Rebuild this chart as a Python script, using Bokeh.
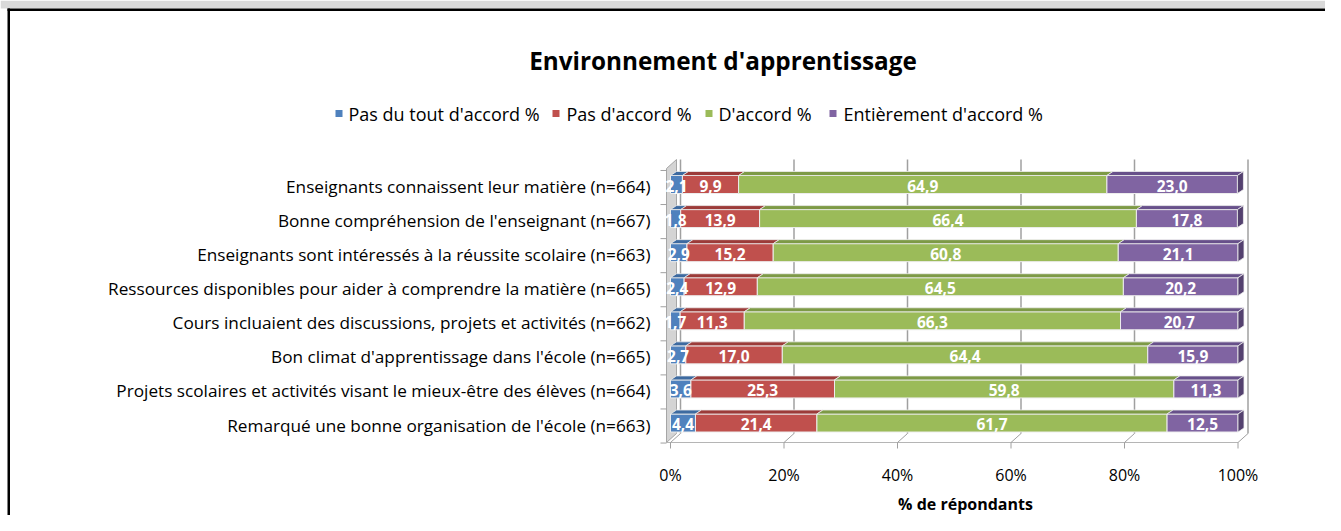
from bokeh.plotting import figure
from bokeh.models import Range1d, ColumnDataSource
from bokeh.core.properties import value
from bokeh.embed import file_html
from bokeh.resources import INLINE

# ---------------- data ----------------
categories = [
    "Enseignants connaissent leur matière (n=664)",
    "Bonne compréhension de l'enseignant (n=667)",
    "Enseignants sont intéressés à la réussite scolaire (n=663)",
    "Ressources disponibles pour aider à comprendre la matière (n=665)",
    "Cours incluaient des discussions, projets et activités (n=662)",
    "Bon climat d'apprentissage dans l'école (n=665)",
    "Projets scolaires et activités visant le mieux-être des élèves (n=664)",
    "Remarqué une bonne organisation de l'école (n=663)",
]
pas_du_tout = [2.1, 1.8, 2.9, 2.4, 1.7, 2.7, 3.6, 4.4]
pas_accord = [9.9, 13.9, 15.2, 12.9, 11.3, 17.0, 25.3, 21.4]
accord = [64.9, 66.4, 60.8, 64.5, 66.3, 64.4, 59.8, 61.7]
entierement = [23.0, 17.8, 21.1, 20.2, 20.7, 15.9, 11.3, 12.5]
series_names = ["Pas du tout d'accord %", "Pas d'accord %", "D'accord %", "Entièrement d'accord %"]
x_ticks = [0, 20, 40, 60, 80, 100]
x_tick_labels = ["0%", "20%", "40%", "60%", "80%", "100%"]
chart_title = "Environnement d'apprentissage"
x_title = "% de répondants"

# ---------------- styles / layout ----------------
front_colors = ["#4F81BD", "#C0504D", "#9BBB59", "#8064A2"]
top_colors = ["#3D6AA0", "#9C3B39", "#7D9A46", "#67508A"]
end_color = "#54416F"
FONT = "Open Sans"

W, H = 1325, 515
X0, XS = 670.0, 5.675        # canvas x of 0 %, px per %
Y0, RS = 422.5, 34.07        # canvas y of bottom row centre, px per row


def px2x(px):
    return (px - X0) / XS


def py2y(py):
    return (Y0 - py) / RS


def dx(px):
    return px / XS


def dy(px):
    return px / RS


n = len(categories)
rows = [n - 1 - i for i in range(n)]

p = figure(width=W, height=H, output_backend="svg", toolbar_location=None,
           x_range=Range1d(px2x(0), px2x(W)), y_range=Range1d(py2y(H), py2y(0)),
           x_axis_location=None, y_axis_location=None,
           min_border_left=0, min_border_right=0, min_border_top=0, min_border_bottom=0)
p.grid.visible = False
p.outline_line_color = None
p.background_fill_color = "white"
p.border_fill_color = "white"

# ---------------- frame of the sheet ----------------
p.quad(left=[px2x(0)], right=[px2x(W)], top=[py2y(0)], bottom=[py2y(8)],
       fill_color="#D9D9D9", line_color=None)
p.quad(left=[px2x(7)], right=[px2x(W)], top=[py2y(8)], bottom=[py2y(10.5)],
       fill_color="black", line_color=None)
p.quad(left=[px2x(7)], right=[px2x(9.5)], top=[py2y(8)], bottom=[py2y(H)],
       fill_color="black", line_color=None)

# ---------------- 3D walls ----------------
DXW, DYW = dx(10), dy(9)
yf = py2y(442)
yb = yf + DYW
ytf = py2y(168)
ytb = py2y(159)
xlw = px2x(666)
p.patch([xlw, xlw, xlw + DXW, xlw + DXW], [yf, ytf, ytb, yb],
        fill_color="#D4D4D4", line_color="#A6A6A6", line_width=1)
p.segment(x0=[t + DXW for t in x_ticks], y0=[yb] * len(x_ticks),
          x1=[t + DXW for t in x_ticks], y1=[ytb] * len(x_ticks),
          line_color="#A0A0A0", line_width=1.5)
p.segment(x0=[xlw], y0=[yf], x1=[x_ticks[-1]], y1=[yf], line_color="#B5B5B5", line_width=1)
p.segment(x0=x_ticks, y0=[yf] * len(x_ticks), x1=[t + DXW for t in x_ticks],
          y1=[yb] * len(x_ticks), line_color="#A0A0A0", line_width=1)
# category ticks on left wall
bnd = [k - 0.5 - dy(3) for k in range(n + 1)]
p.segment(x0=[px2x(660)] * len(bnd), y0=bnd, x1=[xlw] * len(bnd), y1=bnd,
          line_color="#A0A0A0", line_width=1)
# x ticks
p.segment(x0=x_ticks, y0=[yf] * len(x_ticks), x1=x_ticks, y1=[yf - dy(6)] * len(x_ticks),
          line_color="#A0A0A0", line_width=1)

# ---------------- bars ----------------
BH = dy(18)
DXB, DYB = dx(6), dy(4)
series = [pas_du_tout, pas_accord, accord, entierement]
cum = [0.0] * n
label_sources = []
for k, vals in enumerate(series):
    left = cum[:]
    right = [l + v for l, v in zip(left, vals)]
    cum = right
    src = ColumnDataSource(dict(y=rows, left=left, right=right,
                                cx=[(l + r) / 2 for l, r in zip(left, right)],
                                ty=[y - dy(1) for y in rows],
                                lab=[("%.1f" % v).replace(".", ",") for v in vals]))
    p.hbar(y="y", left="left", right="right", height=BH, source=src,
           fill_color=front_colors[k], line_color="#EDEDED", line_width=1)
    xs_top = [[l, rr, rr + DXB, l + DXB] for l, rr in zip(left, right)]
    ys_top = [[y + BH / 2, y + BH / 2, y + BH / 2 + DYB, y + BH / 2 + DYB] for y in rows]
    p.patches(xs_top, ys_top, fill_color=top_colors[k], line_color="#EDEDED", line_width=0.8)
    label_sources.append(src)

xs_end = [[rr, rr + DXB, rr + DXB, rr] for rr in cum]
ys_end = [[y - BH / 2, y - BH / 2 + DYB, y + BH / 2 + DYB, y + BH / 2] for y in rows]
p.patches(xs_end, ys_end, fill_color=end_color, line_color="#EDEDED", line_width=0.8)

for src in label_sources:
    p.text(x="cx", y="ty", text="lab", source=src, text_color="white",
           text_font=value(FONT), text_font_style="bold", text_font_size="15.5px",
           text_align="center", text_baseline="middle")

# ---------------- category labels (y axis) ----------------
p.text(x=[px2x(650)] * n, y=[r - dy(2) for r in rows], text=categories,
       text_font=value(FONT), text_font_size="17.2px", text_color="black",
       text_align="right", text_baseline="middle")

# ---------------- x tick labels and title ----------------
p.text(x=x_ticks, y=[py2y(474)] * len(x_ticks), text=x_tick_labels,
       text_font=value(FONT), text_font_size="16px", text_color="black",
       text_align="center", text_baseline="middle")
p.text(x=[px2x(965)], y=[py2y(503)], text=[x_title],
       text_font=value(FONT), text_font_size="16px", text_font_style="bold",
       text_color="black", text_align="center", text_baseline="middle")

# ---------------- chart title ----------------
p.text(x=[px2x(722.5)], y=[py2y(60)], text=[chart_title],
       text_font=value(FONT), text_font_size="24.3px", text_font_style="bold",
       text_color="black", text_align="center", text_baseline="middle")

# ---------------- legend ----------------
leg_sq_x = [338.5, 555.5, 708.5, 832.5]
leg_tx_x = [348, 566, 718, 843]
leg_y = py2y(113)
p.rect(x=[px2x(v) for v in leg_sq_x], y=[leg_y] * 4, width=dx(7), height=dy(7),
       fill_color=front_colors, line_color=None)
p.text(x=[px2x(v) for v in leg_tx_x], y=[leg_y] * 4, text=series_names,
       text_font=value(FONT), text_font_size="18px", text_color="black",
       text_align="left", text_baseline="middle")

open("out.html", "w").write(file_html(p, INLINE))
